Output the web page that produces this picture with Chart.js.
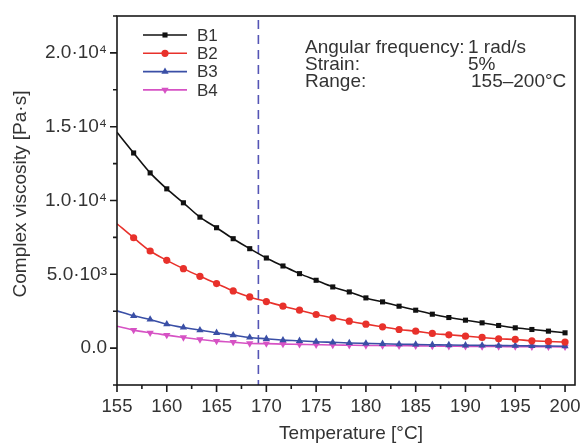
<!DOCTYPE html>
<html>
<head>
<meta charset="utf-8">
<script src="https://cdn.jsdelivr.net/npm/chart.js@4.4.1/dist/chart.umd.min.js"></script>
<style>
html,body{margin:0;padding:0;background:#fff;}
#wrap{width:581px;height:444px;position:relative;}
</style>
</head>
<body>
<div id="wrap"><canvas id="c" width="581" height="444"></canvas></div>
<script>
const temperatures = [155,156.67,158.33,160,161.67,163.33,165,166.67,168.33,170,171.67,173.33,175,176.67,178.33,180,181.67,183.33,185,186.67,188.33,190,191.67,193.33,195,196.67,198.33,200];
const B1 = [14620,13220,11870,10790,9845,8872,8155,7412,6736,6103,5564,5045,4595,4144,3806,3401,3131,2838,2568,2297,2072,1892,1712,1532,1374,1261,1149,1036];
const B2 = [8423,7477,6577,5946,5383,4865,4369,3874,3468,3153,2838,2568,2275,2050,1824,1622,1441,1261,1149,991,901,811,721,631,586,496,450,405];
const B3 = [2523,2185,1937,1622,1396,1216,1036,878,721,631,541,496,430,390,350,320,290,265,245,225,205,190,180,170,160,150,140,130];
const B4 = [1486,1216,1036,878,721,586,473,405,315,300,270,250,230,210,195,180,170,160,150,140,130,120,110,105,100,95,90,85];
const xTicks = [155,160,165,170,175,180,185,190,195,200];
const yTicks = [0,5000,10000,15000,20000];
const yTickLabels = ['0.0','5.0·10³','1.0·10⁴','1.5·10⁴','2.0·10⁴'];
const dashedX = 169.2;
const infoLabels = ['Angular frequency:','Strain:','Range:'];
const infoValues = ['1 rad/s','5%','155–200°C'];
const xTitle = 'Temperature [°C]';
const yTitle = 'Complex viscosity [Pa·s]';

const FONT = '"Liberation Sans", Arial, Helvetica, sans-serif';
const TXT = '#333333';

function mk(data){ return temperatures.map((t,i)=>({x:t,y:data[i]})); }

const series = [
  {label:'B1', data:B1, color:'#111111', style:'rect', r:3.6, rot:0},
  {label:'B2', data:B2, color:'#e8312b', style:'circle', r:3.6, rot:0},
  {label:'B3', data:B3, color:'#3a4fa6', style:'triangle', r:4.2, rot:0},
  {label:'B4', data:B4, color:'#d652c4', style:'triangle', r:4.2, rot:180},
];

const datasets = series.map(s=>({
  label:s.label,
  data:mk(s.data),
  borderColor:s.color,
  backgroundColor:s.color,
  borderWidth:1.6,
  pointStyle:s.style,
  pointRotation:s.rot,
  pointRadius:(ctx)=> ctx.dataIndex===0 ? 0 : s.r,
  pointHoverRadius:s.r,
  pointBorderWidth:0,
  tension:0.35,
  cubicInterpolationMode:'monotone'
}));

const extras = {
  id:'extras',
  beforeDatasetsDraw(chart){
    const {ctx, chartArea:a, scales:{x,y}} = chart;
    const px = x.getPixelForValue(dashedX);
    ctx.save();
    ctx.strokeStyle = '#5555b5';
    ctx.lineWidth = 1.6;
    ctx.setLineDash([9,6]);
    ctx.beginPath();
    ctx.moveTo(px, a.top+4);
    ctx.lineTo(px, a.bottom);
    ctx.stroke();
    ctx.restore();
  },
  afterDatasetsDraw(chart){
    const {ctx, chartArea:a, scales:{x,y}} = chart;
    ctx.save();
    ctx.strokeStyle = '#1a1a1a';
    ctx.lineWidth = 1.6;
    ctx.strokeRect(a.left, a.top, a.right-a.left, a.bottom-a.top);
    ctx.beginPath();
    for (let v=-2500; v<=22500; v+=2500){
      const py = y.getPixelForValue(v);
      if (py < a.top-0.5 || py > a.bottom+0.5) continue;
      const len = (v % 5000 === 0) ? 7 : 4;
      ctx.moveTo(a.left, py); ctx.lineTo(a.left-len, py);
    }
    for (let v=155; v<=201; v+=2.5){
      const px = x.getPixelForValue(v);
      const len = (v % 5 === 0) ? 7 : 4;
      ctx.moveTo(px, a.bottom); ctx.lineTo(px, a.bottom+len);
    }
    ctx.stroke();
    // legend
    ctx.font = '17px ' + FONT;
    ctx.textBaseline = 'middle';
    const lx0 = 143, lx1 = 187, ly0 = 35, ldy = 18.3;
    series.forEach((s,i)=>{
      const ly = ly0 + i*ldy;
      ctx.strokeStyle = s.color; ctx.fillStyle = s.color; ctx.lineWidth = 1.6;
      ctx.beginPath(); ctx.moveTo(lx0, ly); ctx.lineTo(lx1, ly); ctx.stroke();
      Chart.helpers.drawPoint(ctx, {pointStyle:s.style, radius:s.r, rotation:s.rot, borderWidth:0}, (lx0+lx1)/2, ly);
      ctx.fillStyle = TXT;
      ctx.textAlign = 'left';
      ctx.fillText(s.label, 197, ly+1);
    });
    // info text
    ctx.font = '19px ' + FONT;
    ctx.fillStyle = TXT;
    infoLabels.forEach((t,i)=>{
      const ty = 48 + i*17;
      ctx.fillText(t, 305, ty);
      ctx.fillText(infoValues[i], i===2 ? 471 : 468, ty);
    });
    // axis titles
    ctx.textAlign = 'center';
    ctx.fillText(xTitle, 351, 434);
    ctx.save();
    ctx.translate(21, 194);
    ctx.rotate(-Math.PI/2);
    ctx.fillText(yTitle, 0, 0);
    ctx.restore();
    ctx.restore();
  }
};

new Chart(document.getElementById('c'), {
  type:'line',
  data:{datasets},
  plugins:[extras],
  options:{
    responsive:false,
    animation:false,
    devicePixelRatio:1,
    layout:{padding:{top:16,right:6,left:0,bottom:0}},
    plugins:{legend:{display:false}, tooltip:{enabled:false}},
    scales:{
      x:{
        type:'linear', min:155, max:201,
        afterBuildTicks(sc){ sc.ticks = xTicks.map(v=>({value:v})); },
        afterFit(sc){ sc.height = 59; sc.paddingLeft = 0; sc.paddingRight = 0; },
        grid:{display:false, drawTicks:false},
        border:{display:false},
        ticks:{padding:11, color:TXT, font:{family:FONT, size:18.5}, maxRotation:0, autoSkip:false},
        title:{display:false}
      },
      y:{
        type:'linear', min:-2500, max:22500,
        afterBuildTicks(sc){ sc.ticks = yTicks.map(v=>({value:v})); },
        afterFit(sc){ sc.width = 117; sc.paddingTop = 0; sc.paddingBottom = 0; },
        grid:{display:false, drawTicks:false},
        border:{display:false},
        ticks:{padding:10, color:TXT, font:{family:FONT, size:19},
          callback:(v)=>{ const i = yTicks.indexOf(v); return i>=0 ? yTickLabels[i] : ''; }},
        title:{display:false}
      }
    }
  }
});
</script>
</body>
</html>
